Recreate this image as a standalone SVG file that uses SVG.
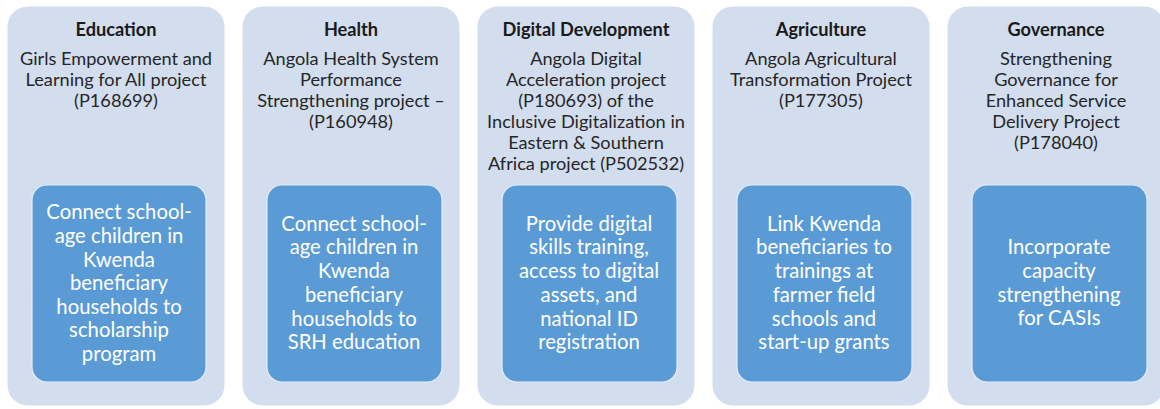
<svg xmlns="http://www.w3.org/2000/svg" width="1160" height="409" viewBox="0 0 1160 409">
  <style>
    .panel { fill: #D2DDEE; stroke: #FFFFFF; stroke-width: 1; }
    .card { fill: #5B9BD5; stroke: #E4ECF7; stroke-width: 1.2; }
    .title { font-family: Lato, "Liberation Sans", sans-serif; font-size: 18.2px; font-weight: bold; fill: #1A1A1A; text-anchor: middle; }
    .sub { font-family: Lato, "Liberation Sans", sans-serif; font-size: 18.2px; fill: #262626; text-anchor: middle; }
    .body { font-family: Lato, "Liberation Sans", sans-serif; font-size: 20.3px; fill: #FFFFFF; text-anchor: middle; }
  </style>
  <rect width="1160" height="409" fill="#FFFFFF"/>

  <g id="education">
    <rect class="panel" x="7" y="6" width="218" height="400" rx="21"/>
    <text class="title" x="116" y="36">Education</text>
    <text class="sub" x="116" y="65">Girls Empowerment and</text>
    <text class="sub" x="116" y="86">Learning for All project</text>
    <text class="sub" x="116" y="107">(P168699)</text>
    <rect class="card" x="32" y="185" width="174" height="197" rx="15"/>
    <text class="body" x="119" y="219">Connect school-</text>
    <text class="body" x="119" y="243">age children in</text>
    <text class="body" x="119" y="267">Kwenda</text>
    <text class="body" x="119" y="290">beneficiary</text>
    <text class="body" x="119" y="314">households to</text>
    <text class="body" x="119" y="337">scholarship</text>
    <text class="body" x="119" y="361">program</text>
  </g>

  <g id="health">
    <rect class="panel" x="242" y="6" width="218" height="400" rx="21"/>
    <text class="title" x="351" y="36">Health</text>
    <text class="sub" x="351" y="65">Angola Health System</text>
    <text class="sub" x="351" y="86">Performance</text>
    <text class="sub" x="351" y="107">Strengthening project –</text>
    <text class="sub" x="351" y="128">(P160948)</text>
    <rect class="card" x="267" y="185" width="175" height="197" rx="15"/>
    <text class="body" x="354" y="231">Connect school-</text>
    <text class="body" x="354" y="254">age children in</text>
    <text class="body" x="354" y="278">Kwenda</text>
    <text class="body" x="354" y="302">beneficiary</text>
    <text class="body" x="354" y="326">households to</text>
    <text class="body" x="354" y="349">SRH education</text>
  </g>

  <g id="digital-development">
    <rect class="panel" x="477" y="6" width="218" height="400" rx="21"/>
    <text class="title" x="586" y="36">Digital Development</text>
    <text class="sub" x="586" y="65">Angola Digital</text>
    <text class="sub" x="586" y="86">Acceleration project</text>
    <text class="sub" x="586" y="107">(P180693) of the</text>
    <text class="sub" x="586" y="128">Inclusive Digitalization in</text>
    <text class="sub" x="586" y="149">Eastern &amp; Southern</text>
    <text class="sub" x="586" y="170">Africa project (P502532)</text>
    <rect class="card" x="502" y="185" width="175" height="197" rx="15"/>
    <text class="body" x="589" y="231">Provide digital</text>
    <text class="body" x="589" y="254">skills training,</text>
    <text class="body" x="589" y="278">access to digital</text>
    <text class="body" x="589" y="302">assets, and</text>
    <text class="body" x="589" y="326">national ID</text>
    <text class="body" x="589" y="349">registration</text>
  </g>

  <g id="agriculture">
    <rect class="panel" x="712" y="6" width="218" height="400" rx="21"/>
    <text class="title" x="821" y="36">Agriculture</text>
    <text class="sub" x="821" y="65">Angola Agricultural</text>
    <text class="sub" x="821" y="86">Transformation Project</text>
    <text class="sub" x="821" y="107">(P177305)</text>
    <rect class="card" x="737" y="185" width="175" height="197" rx="15"/>
    <text class="body" x="824" y="231">Link Kwenda</text>
    <text class="body" x="824" y="254">beneficiaries to</text>
    <text class="body" x="824" y="278">trainings at</text>
    <text class="body" x="824" y="302">farmer field</text>
    <text class="body" x="824" y="326">schools and</text>
    <text class="body" x="824" y="349">start-up grants</text>
  </g>

  <g id="governance">
    <rect class="panel" x="947" y="6" width="218" height="400" rx="21"/>
    <text class="title" x="1056" y="36">Governance</text>
    <text class="sub" x="1056" y="65">Strengthening</text>
    <text class="sub" x="1056" y="86">Governance for</text>
    <text class="sub" x="1056" y="107">Enhanced Service</text>
    <text class="sub" x="1056" y="128">Delivery Project</text>
    <text class="sub" x="1056" y="149">(P178040)</text>
    <rect class="card" x="972" y="185" width="175" height="197" rx="15"/>
    <text class="body" x="1059" y="254">Incorporate</text>
    <text class="body" x="1059" y="278">capacity</text>
    <text class="body" x="1059" y="302">strengthening</text>
    <text class="body" x="1059" y="325">for CASIs</text>
  </g>

  <g id="connectors"></g>
</svg>
